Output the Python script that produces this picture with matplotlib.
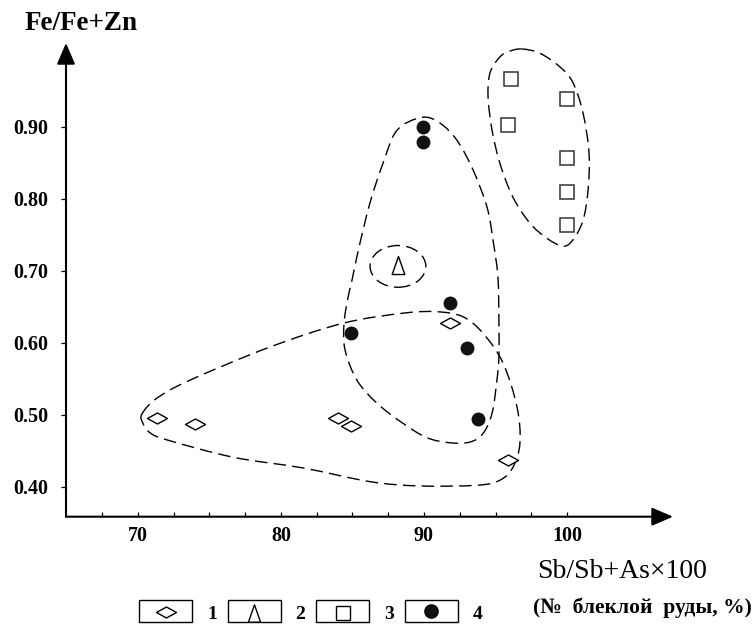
import numpy as np
import matplotlib
matplotlib.use('Agg')
import matplotlib.pyplot as plt
from matplotlib.path import Path
from matplotlib.patches import PathPatch, Ellipse, Rectangle

plt.rcParams['font.family'] = ['Liberation Serif', 'DejaVu Serif']
plt.rcParams['lines.scale_dashes'] = False

# 1 - diamonds, 2 - triangle, 3 - squares, 4 - circles
diamond_x = [71.3, 74.0, 84.0, 84.9, 91.8, 95.9]
diamond_y = [0.495, 0.487, 0.495, 0.484, 0.627, 0.437]
triangle_x = [88.2]
triangle_y = [0.708]
square_x = [96.1, 95.9, 100.0, 100.0, 100.0, 100.0]
square_y = [0.966, 0.903, 0.938, 0.857, 0.810, 0.763]
circle_x = [89.9, 89.9, 91.8, 84.9, 93.0, 93.8]
circle_y = [0.899, 0.879, 0.655, 0.614, 0.593, 0.494]

xticks = [70, 80, 90, 100]
yticks = [0.40, 0.50, 0.60, 0.70, 0.80, 0.90]
legend_labels = ['1', '2', '3', '4']

# hand-drawn field outlines (control points)
env1_x = [70.28, 71.33, 73.64, 79.23, 84.34, 88.53, 90.91, 92.73, 94.13, 95.52, 96.50,
          96.71, 96.22, 95.31, 93.71, 89.72, 86.22, 81.54, 76.64, 72.03, 70.84, 70.35]
env1_y = [0.501, 0.523, 0.548, 0.594, 0.627, 0.641, 0.643, 0.636, 0.613, 0.572, 0.511,
          0.461, 0.427, 0.409, 0.402, 0.401, 0.407, 0.426, 0.441, 0.465, 0.475, 0.488]
env4_x = [89.86, 91.12, 92.31, 93.43, 94.41, 94.83, 95.17, 95.24, 95.24, 95.10, 94.76,
          94.13, 93.22, 91.82, 90.21, 88.53, 86.71, 85.31, 84.48, 84.41, 84.69, 84.97,
          85.38, 86.22, 87.13, 88.11]
env4_y = [0.913, 0.905, 0.881, 0.840, 0.788, 0.742, 0.691, 0.627, 0.580, 0.548, 0.502,
          0.474, 0.462, 0.461, 0.468, 0.488, 0.516, 0.548, 0.590, 0.627, 0.663, 0.687,
          0.726, 0.794, 0.849, 0.895]
env3_x = [96.85, 98.11, 99.51, 100.42, 101.12, 101.54, 101.47, 101.12, 100.42, 99.72,
          98.60, 97.41, 96.22, 95.31, 94.76, 94.48, 94.62, 95.31, 96.01]
env3_y = [1.008, 1.002, 0.983, 0.961, 0.919, 0.863, 0.812, 0.770, 0.743, 0.734,
          0.745, 0.766, 0.802, 0.849, 0.895, 0.941, 0.975, 0.997, 1.005]
env2_center = (88.18, 0.706)
env2_size = (3.9, 0.058)


def closed_curve(xs, ys):
    p = np.column_stack([xs, ys])
    n = len(p)
    verts = [p[0]]
    codes = [Path.MOVETO]
    for i in range(n):
        p0, p1, p2, p3 = p[i - 1], p[i], p[(i + 1) % n], p[(i + 2) % n]
        verts += [p1 + (p2 - p0) / 6, p2 - (p3 - p1) / 6, p2]
        codes += [Path.CURVE4] * 3
    return Path(verts, codes)


diamond = Path([(-1, 0), (0, 0.55), (1, 0), (0, -0.55), (-1, 0)],
               [Path.MOVETO, Path.LINETO, Path.LINETO, Path.LINETO, Path.CLOSEPOLY])
triangle = Path([(-0.7, -1), (0, 1), (0.7, -1), (-0.7, -1)],
                [Path.MOVETO, Path.LINETO, Path.LINETO, Path.CLOSEPOLY])

W, H = 754, 625
fig = plt.figure(figsize=(W / 100, H / 100), dpi=100)
ax = fig.add_axes([66 / W, 1 - 516.7 / H, (673 - 66) / W, (516.7 - 43) / H])
ax.set_xlim(64.97, 107.41)
ax.set_ylim(0.3583, 1.0163)
for s in ax.spines.values():
    s.set_visible(False)

dash = (0, (9, 4.5))
for ex, ey in [(env1_x, env1_y), (env4_x, env4_y), (env3_x, env3_y)]:
    ax.add_patch(PathPatch(closed_curve(ex, ey), fill=False, lw=1.0, ls=dash,
                           ec='black', clip_on=False))
ax.add_patch(Ellipse(env2_center, env2_size[0], env2_size[1], fill=False, lw=1.0,
                     ls=dash, ec='black'))

ax.plot(diamond_x, diamond_y, ls='none', marker=diamond, ms=14.4, mfc='white',
        mec='black', mew=1.0)
ax.plot(triangle_x, triangle_y, ls='none', marker=triangle, ms=13, mfc='white',
        mec='black', mew=1.0)
ax.plot(square_x, square_y, ls='none', marker='s', ms=9.6, mfc='white',
        mec='#333333', mew=1.1)
ax.plot(circle_x, circle_y, ls='none', marker='o', ms=9, mfc='#111111',
        mec='#111111')

# axes with arrows
arr = dict(arrowstyle='-|>,head_length=0.65,head_width=0.28', lw=1.5, color='black',
           shrinkA=0, shrinkB=0, mutation_scale=20)
ax.annotate('', xy=(1, 0), xycoords='axes fraction', xytext=(0, 0), arrowprops=arr)
ax.annotate('', xy=(0, 1), xycoords='axes fraction', xytext=(0, 0), arrowprops=arr)

minor = np.arange(67.5, 100.1, 2.5)
ax.set_xticks(minor)
ax.set_xticklabels([str(int(t)) if t in xticks else '' for t in minor])
ax.set_yticks(yticks)
ax.set_yticklabels(['%.2f' % t for t in yticks])
ax.tick_params(axis='x', direction='in', length=3.5, width=0.9, pad=7, labelsize=14.5)
ax.tick_params(axis='y', direction='out', length=3.5, width=0.9, pad=9, labelsize=14.5)
for lab in ax.get_xticklabels() + ax.get_yticklabels():
    lab.set_fontweight('bold')

fig.text(81 / W, 1 - 24 / H, 'Fe/Fe+Zn', ha='center', va='center', fontsize=19.5,
         fontweight='bold')
fig.text(622 / W, 1 - 571 / H, 'Sb/Sb+As×100', ha='center', va='center', fontsize=20)
fig.text(642 / W, 1 - 608 / H, '(№  блеклой  руды, %)', ha='center', va='center',
         fontsize=15.5, fontweight='bold')

# legend strip
leg = fig.add_axes([0, 0, 1, 1], facecolor='none')
leg.set_xlim(0, W)
leg.set_ylim(H, 0)
leg.axis('off')
markers = [(diamond, 14.4, 'white', 612), (triangle, 12.5, 'white', 613),
           ('s', 9.6, 'white', 613), ('o', 9.5, '#111111', 611)]
for i, (lab, (m, ms, fc, my)) in enumerate(zip(legend_labels, markers)):
    x0 = 139 + i * 88.5
    leg.add_patch(Rectangle((x0, 600), 53, 22, fill=False, lw=1.0, ec='black'))
    leg.plot([x0 + 26.5], [my], ls='none', marker=m, ms=ms, mfc=fc, mec='black', mew=1.0)
    leg.text(x0 + 73, 619, lab, ha='center', va='baseline', fontsize=14,
             fontweight='bold')

fig.savefig('out.png', dpi=100)
